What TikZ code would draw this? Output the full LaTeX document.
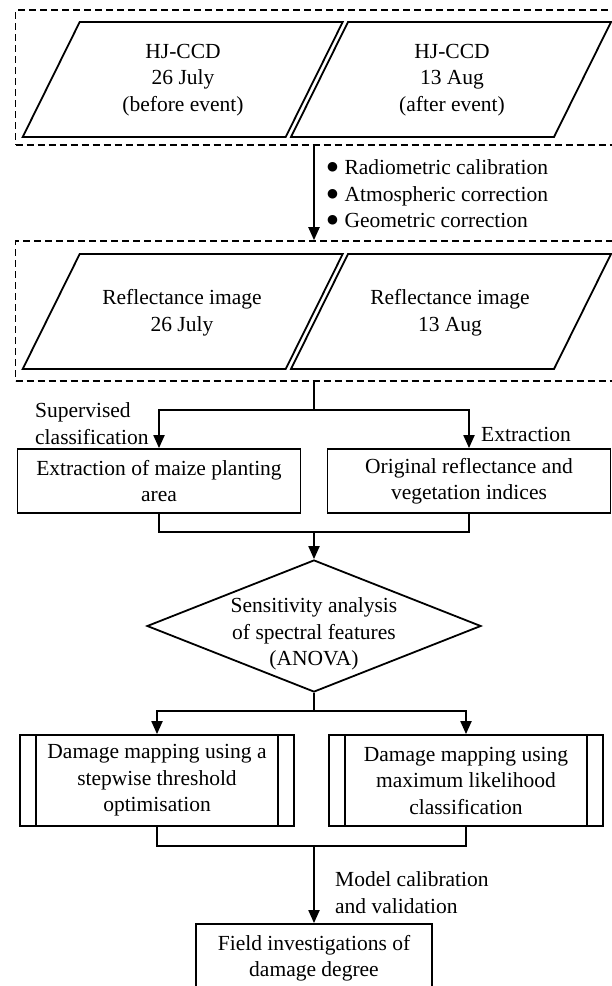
\documentclass[tikz,border=0pt]{standalone}
\usepackage{fontspec}
\setmainfont{Liberation Serif}
\newfontfamily\symfont{DejaVu Sans}
\usetikzlibrary{arrows.meta,shapes.geometric}
\newcommand{\bigbul}{\raisebox{4pt}{\symfont\fontsize{12.5}{12}\selectfont ●}\hspace{0.3em}}
\tikzset{%
  flowbox/.style  = {shape=rectangle, draw, line width=1.8pt,%
                     align=center, inner sep=0pt},%
  procbox/.style  = {flowbox, path picture={%
                     \draw[line width=1.8pt] ([xshift=16pt]path picture bounding box.north west)%
                       -- ([xshift=16pt]path picture bounding box.south west);%
                     \draw[line width=1.8pt] ([xshift=-16pt]path picture bounding box.north east)%
                       -- ([xshift=-16pt]path picture bounding box.south east);}},%
  groupbox/.style = {shape=rectangle, draw, line width=1.6pt,%
                     dash pattern=on 7pt off 4pt},%
  decision/.style = {shape=diamond, draw, line width=1.8pt, inner sep=0pt},%
  imgbox/.style   = {line width=1.8pt, line join=miter},%
  conn/.style     = {line width=2pt},%
  arr/.style      = {conn, -{Triangle[length=13pt,width=11pt]}},%
  note/.style     = {align=left, anchor=west, inner sep=0pt}%
}

\begin{document}
\begin{tikzpicture}[x=1pt,y=-1pt,
	every node/.style = {font=\fontsize{21.5}{26.5}\selectfont}]
	\path[use as bounding box, clip] (0,0) rectangle (612,986);
	\node[groupbox, minimum width=597pt, minimum height=135pt] (grpraw) at (314,77.5) {};
	\node[groupbox, minimum width=597pt, minimum height=140pt] (grprefl) at (314,311) {};
	\foreach \x/\y in {22.7/137, 291/137, 22.7/369, 291/369}
		\draw[imgbox] (\x,\y) -- ++(57,-115) -- ++(263,0) -- ++(-57,115) -- cycle;
	\node[align=center] (raw1) at (183,80) {HJ-CCD\\26 July\\(before event)};
	\node[align=center] (raw2) at (452,80) {HJ-CCD\\13 Aug\\(after event)};
	\node[align=center] (refl1) at (182,312.5) {Reflectance image\\26 July};
	\node[align=center] (refl2) at (450,312.5) {Reflectance image\\13 Aug};
	\draw[arr] (grpraw.south) -- (grprefl.north);
	\node[note] (prep) at (327,194) {\bigbul Radiometric calibration\\
		\bigbul Atmospheric correction\\
		\bigbul Geometric correction};
	\node[flowbox, minimum width=283pt, minimum height=64pt] (maize) at (159,481)
		{Extraction of maize planting\\area};
	\node[flowbox, minimum width=283pt, minimum height=64pt] (orig) at (469,481)
		{Original reflectance and\\vegetation indices};
	\coordinate (split1) at (314,410);
	\draw[conn] (grprefl.south) -- (split1);
	\draw[arr] (split1) -| (maize.north);
	\draw[arr] (split1) -| (orig.north);
	\node[note] (superv) at (35,423.5) {Supervised\\classification};
	\node[note] (extr) at (481,434.5) {Extraction};
	\node[decision, minimum width=334pt, minimum height=132pt] (sens) at (314,626) {};
	\node[align=center] (senstxt) at (314,634) {Sensitivity analysis\\of spectral features\\(ANOVA)};
	\coordinate (join1) at (314,532);
	\draw[conn] (maize.south) |- (join1);
	\draw[conn] (orig.south) |- (join1);
	\draw[arr] (join1) -- (sens.north);
	\node[procbox, minimum width=274pt, minimum height=91pt] (thresh) at (157,780.5)
		{Damage mapping using a\\stepwise threshold\\optimisation};
	\node[procbox, minimum width=274pt, minimum height=91pt] (mlc) at (466,780.5)
		{Damage mapping using\\maximum likelihood\\classification};
	\coordinate (split2) at (314,711);
	\draw[conn] (sens.south) -- (split2);
	\draw[arr] (split2) -| (thresh.north);
	\draw[arr] (split2) -| (mlc.north);
	\node[flowbox, minimum width=236pt, minimum height=68pt] (field) at (314,958)
		{Field investigations of\\damage degree};
	\coordinate (join2) at (314,846);
	\draw[conn] (thresh.south) |- (join2);
	\draw[conn] (mlc.south) |- (join2);
	\draw[arr] (join2) -- (field.north);
	\node[note] (calib) at (335,892.5) {Model calibration\\and validation};
\end{tikzpicture}
\end{document}
